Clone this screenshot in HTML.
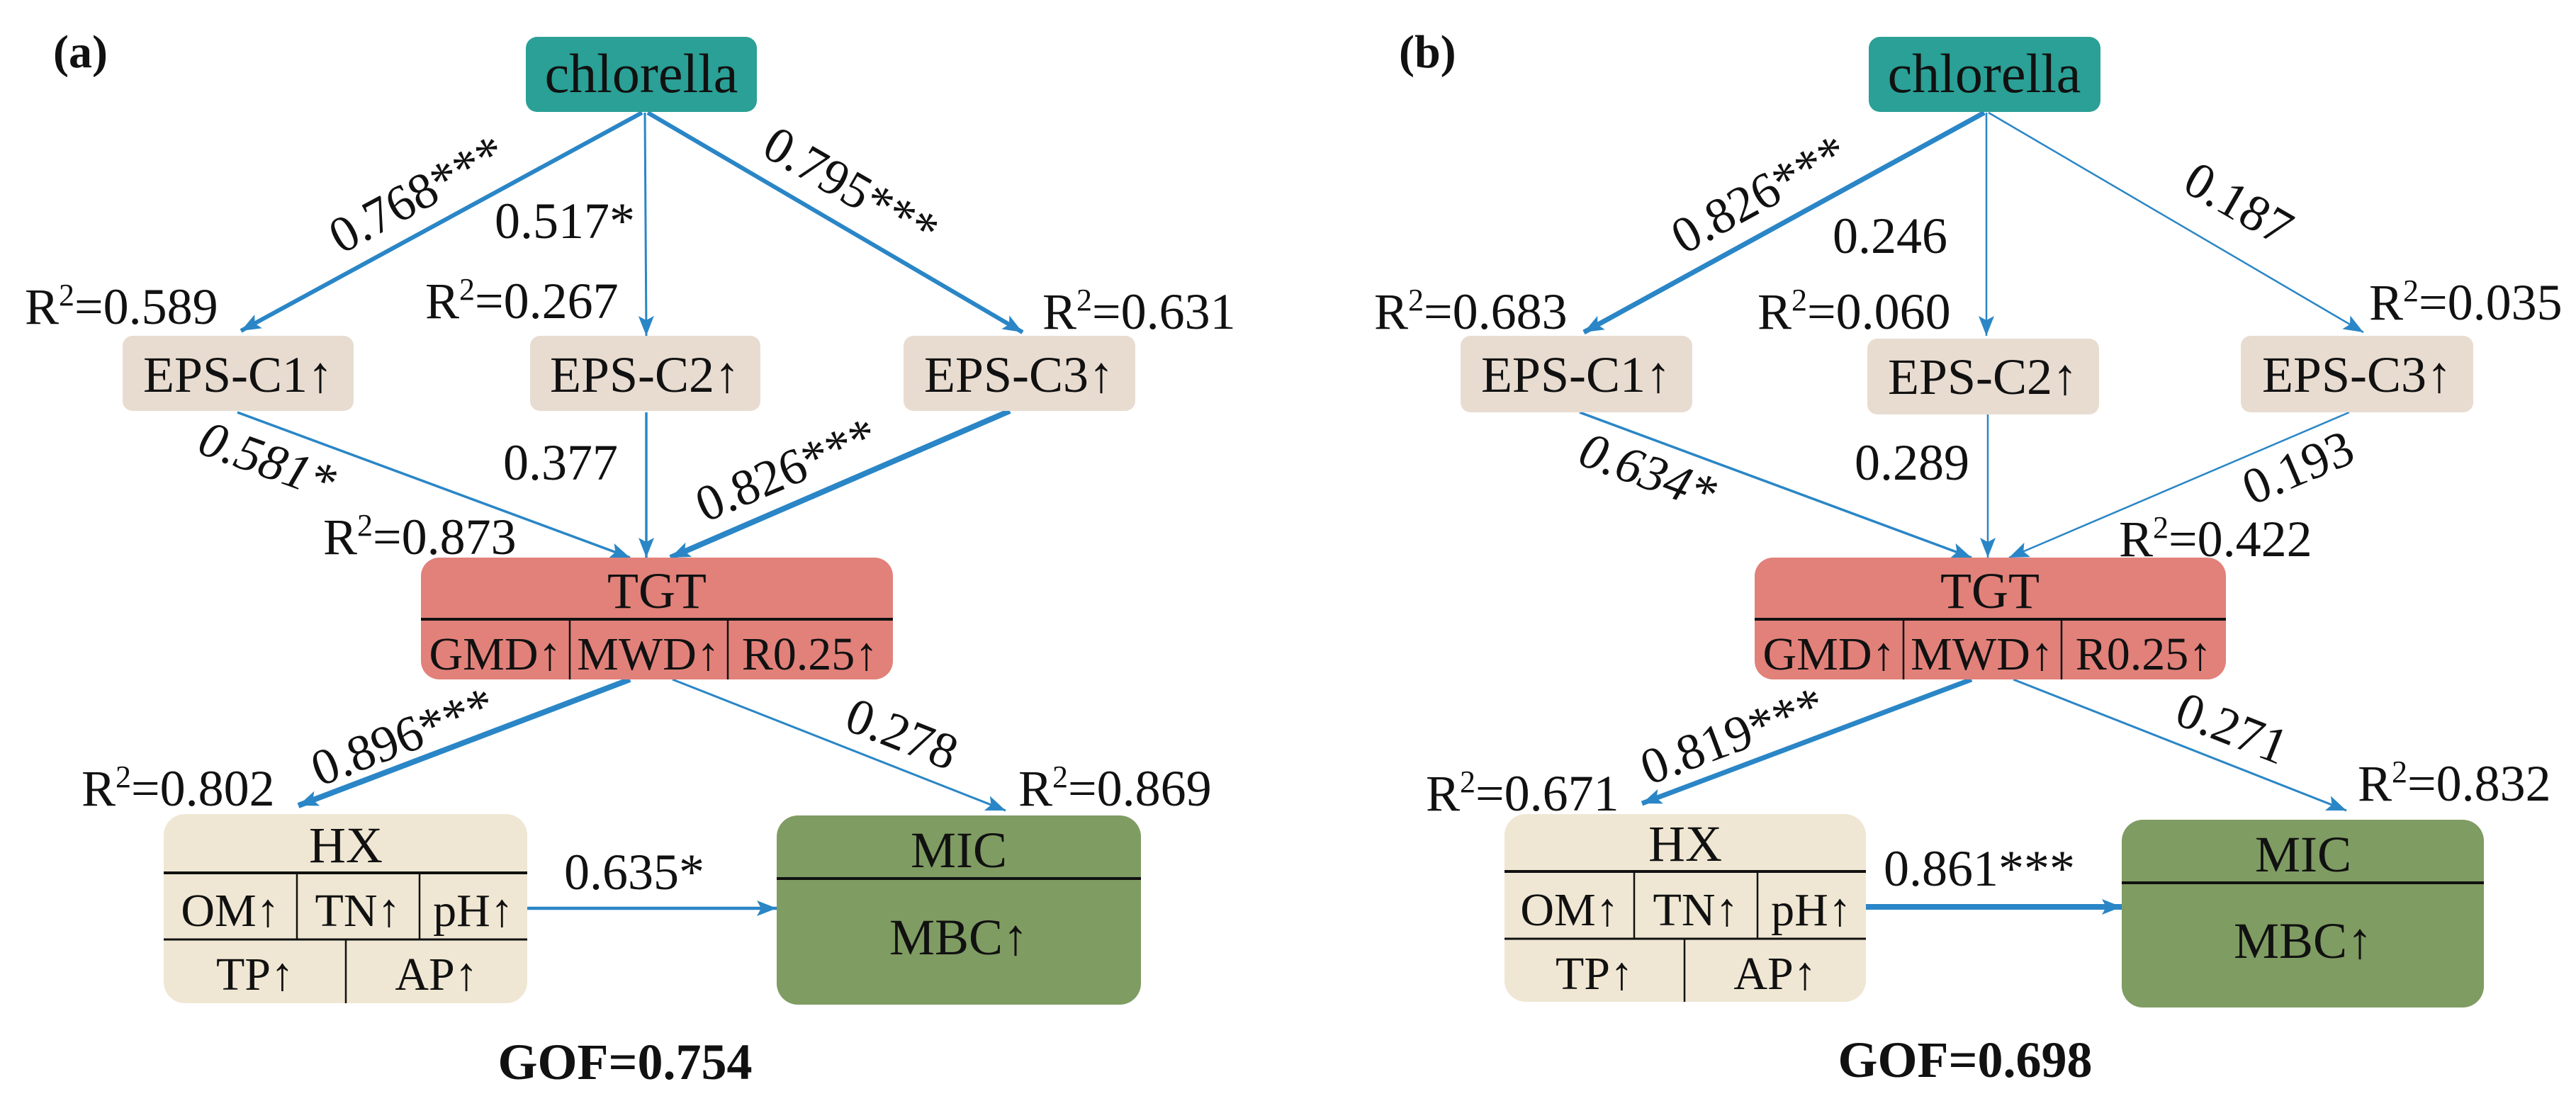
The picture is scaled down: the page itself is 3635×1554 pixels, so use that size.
<!DOCTYPE html>
<html><head><meta charset="utf-8"><style>
html,body{margin:0;padding:0;background:#fff;}
svg{display:block;}
svg text{font-family:"Liberation Serif","Times New Roman","Nimbus Roman","DejaVu Serif",serif;fill:#111;}
.t{font-size:72px;}
.n{font-size:78px;}
.s{font-size:66px;}
.b{font-weight:bold;font-size:72px;}
</style></head><body>
<svg width="3635" height="1554" viewBox="0 0 3635 1554" xmlns="http://www.w3.org/2000/svg" font-family="Liberation Serif, Times New Roman, serif">
<defs>
<marker id="ah" markerUnits="userSpaceOnUse" markerWidth="30" markerHeight="24" refX="28" refY="11" orient="auto">
<path d="M0,0 L28,11 L0,22 L6,11 z" fill="#2a86c6"/></marker>
</defs>
<g stroke="#2a86c6" fill="none" marker-end="url(#ah)">
<line x1="906" y1="159" x2="340" y2="467" stroke-width="6"/>
<line x1="910" y1="159" x2="912" y2="474" stroke-width="3"/>
<line x1="914" y1="159" x2="1443" y2="469" stroke-width="6"/>
<line x1="335" y1="582" x2="889" y2="787" stroke-width="3.5"/>
<line x1="912" y1="582" x2="912" y2="787" stroke-width="3.5"/>
<line x1="1425" y1="580" x2="946" y2="787" stroke-width="8"/>
<line x1="889" y1="959" x2="421" y2="1137" stroke-width="8"/>
<line x1="949" y1="959" x2="1419" y2="1144" stroke-width="3"/>
<line x1="744" y1="1282" x2="1096" y2="1282" stroke-width="4.5"/>
<line x1="2800" y1="159" x2="2235" y2="469" stroke-width="7"/>
<line x1="2803" y1="159" x2="2803" y2="474" stroke-width="2.5"/>
<line x1="2806" y1="159" x2="3335" y2="469" stroke-width="2.5"/>
<line x1="2229" y1="582" x2="2782" y2="787" stroke-width="3.5"/>
<line x1="2805" y1="585" x2="2805" y2="787" stroke-width="2.5"/>
<line x1="3315" y1="582" x2="2835" y2="787" stroke-width="2.5"/>
<line x1="2782" y1="959" x2="2317" y2="1134" stroke-width="7"/>
<line x1="2841" y1="959" x2="3311" y2="1144" stroke-width="3"/>
<line x1="2633" y1="1280" x2="2994" y2="1280" stroke-width="8"/>
</g>

<text x="75" y="95" class="b" style="font-size:66px">(a)</text>
<rect x="742" y="52" width="326" height="106" rx="16" fill="#2aa096"/>
<text x="905" y="130" class="n" text-anchor="middle">chlorella</text>
<rect x="173" y="474" width="326" height="106" rx="14" fill="#e8dcd1"/>
<text x="336" y="553" class="t" text-anchor="middle">EPS-C1↑</text>
<rect x="748" y="474" width="325" height="106" rx="14" fill="#e8dcd1"/>
<text x="910" y="553" class="t" text-anchor="middle">EPS-C2↑</text>
<rect x="1275" y="474" width="327" height="106" rx="14" fill="#e8dcd1"/>
<text x="1438" y="553" class="t" text-anchor="middle">EPS-C3↑</text>

<rect x="594" y="787" width="666" height="172" rx="26" fill="#e1817a"/>
<line x1="594" y1="874" x2="1260" y2="874" stroke="#111" stroke-width="4"/>
<line x1="804" y1="874" x2="804" y2="959" stroke="#111" stroke-width="2.5"/>
<line x1="1027" y1="874" x2="1027" y2="959" stroke="#111" stroke-width="2.5"/>
<text x="927" y="858" class="t" text-anchor="middle">TGT</text>
<text x="699" y="945" class="s" text-anchor="middle">GMD↑</text>
<text x="915" y="945" class="s" text-anchor="middle">MWD↑</text>
<text x="1143" y="945" class="s" text-anchor="middle">R0.25↑</text>

<rect x="231" y="1149" width="513" height="267" rx="30" fill="#efe7d3"/>
<line x1="231" y1="1232" x2="744" y2="1232" stroke="#111" stroke-width="4"/>
<line x1="231" y1="1326" x2="744" y2="1326" stroke="#111" stroke-width="3"/>
<line x1="419" y1="1232" x2="419" y2="1326" stroke="#111" stroke-width="2.5"/>
<line x1="592" y1="1232" x2="592" y2="1326" stroke="#111" stroke-width="2.5"/>
<line x1="488" y1="1326" x2="488" y2="1416" stroke="#111" stroke-width="2.5"/>
<text x="488" y="1217" class="t" text-anchor="middle">HX</text>
<text x="325" y="1307" class="s" text-anchor="middle">OM↑</text>
<text x="505" y="1307" class="s" text-anchor="middle">TN↑</text>
<text x="668" y="1307" class="s" text-anchor="middle">pH↑</text>
<text x="360" y="1397" class="s" text-anchor="middle">TP↑</text>
<text x="616" y="1397" class="s" text-anchor="middle">AP↑</text>

<rect x="1096" y="1151" width="514" height="267" rx="30" fill="#7f9c62"/>
<line x1="1096" y1="1240" x2="1610" y2="1240" stroke="#111" stroke-width="4"/>
<text x="1353" y="1224" class="t" text-anchor="middle">MIC</text>
<text x="1353" y="1347" class="t" text-anchor="middle">MBC↑</text>

<text x="35" y="457" class="t">R<tspan font-size="44" dy="-26">2</tspan><tspan dy="26">=0.589</tspan></text>
<text x="600" y="449" class="t">R<tspan font-size="44" dy="-26">2</tspan><tspan dy="26">=0.267</tspan></text>
<text x="1471" y="464" class="t">R<tspan font-size="44" dy="-26">2</tspan><tspan dy="26">=0.631</tspan></text>
<text x="456" y="782" class="t">R<tspan font-size="44" dy="-26">2</tspan><tspan dy="26">=0.873</tspan></text>
<text x="115" y="1137" class="t">R<tspan font-size="44" dy="-26">2</tspan><tspan dy="26">=0.802</tspan></text>
<text x="1437" y="1137" class="t">R<tspan font-size="44" dy="-26">2</tspan><tspan dy="26">=0.869</tspan></text>
<text class="t" text-anchor="middle" transform="translate(600,295) rotate(-28.5)">0.768***</text>
<text x="698" y="336" class="t">0.517*</text>
<text class="t" text-anchor="middle" transform="translate(1189,285) rotate(30)">0.795***</text>
<text class="t" text-anchor="middle" style="font-style:italic" transform="translate(369,672) rotate(20)">0.581*</text>
<text x="710" y="677" class="t">0.377</text>
<text class="t" text-anchor="middle" transform="translate(1119,685) rotate(-23)">0.826***</text>
<text class="t" text-anchor="middle" transform="translate(577,1062) rotate(-21)">0.896***</text>
<text class="t" text-anchor="middle" transform="translate(1264,1058) rotate(21.5)">0.278</text>
<text x="796" y="1255" class="t">0.635*</text>
<text x="882" y="1523" class="b" text-anchor="middle">GOF=0.754</text>

<text x="1974" y="95" class="b" style="font-size:66px">(b)</text>
<rect x="2637" y="52" width="327" height="106" rx="16" fill="#2aa096"/>
<text x="2800" y="130" class="n" text-anchor="middle">chlorella</text>
<rect x="2061" y="474" width="327" height="108" rx="14" fill="#e8dcd1"/>
<text x="2224" y="553" class="t" text-anchor="middle">EPS-C1↑</text>
<rect x="2635" y="478" width="327" height="107" rx="14" fill="#e8dcd1"/>
<text x="2798" y="556" class="t" text-anchor="middle">EPS-C2↑</text>
<rect x="3162" y="474" width="328" height="108" rx="14" fill="#e8dcd1"/>
<text x="3326" y="553" class="t" text-anchor="middle">EPS-C3↑</text>

<rect x="2476" y="787" width="665" height="172" rx="26" fill="#e1817a"/>
<line x1="2476" y1="874" x2="3141" y2="874" stroke="#111" stroke-width="4"/>
<line x1="2686" y1="874" x2="2686" y2="959" stroke="#111" stroke-width="2.5"/>
<line x1="2909" y1="874" x2="2909" y2="959" stroke="#111" stroke-width="2.5"/>
<text x="2808" y="858" class="t" text-anchor="middle">TGT</text>
<text x="2581" y="945" class="s" text-anchor="middle">GMD↑</text>
<text x="2797" y="945" class="s" text-anchor="middle">MWD↑</text>
<text x="3025" y="945" class="s" text-anchor="middle">R0.25↑</text>

<rect x="2123" y="1149" width="510" height="265" rx="30" fill="#efe7d3"/>
<line x1="2123" y1="1230" x2="2633" y2="1230" stroke="#111" stroke-width="4"/>
<line x1="2123" y1="1325" x2="2633" y2="1325" stroke="#111" stroke-width="3"/>
<line x1="2306" y1="1230" x2="2306" y2="1325" stroke="#111" stroke-width="2.5"/>
<line x1="2480" y1="1230" x2="2480" y2="1325" stroke="#111" stroke-width="2.5"/>
<line x1="2377" y1="1325" x2="2377" y2="1414" stroke="#111" stroke-width="2.5"/>
<text x="2378" y="1215" class="t" text-anchor="middle">HX</text>
<text x="2215" y="1306" class="s" text-anchor="middle">OM↑</text>
<text x="2393" y="1306" class="s" text-anchor="middle">TN↑</text>
<text x="2556" y="1306" class="s" text-anchor="middle">pH↑</text>
<text x="2250" y="1396" class="s" text-anchor="middle">TP↑</text>
<text x="2505" y="1396" class="s" text-anchor="middle">AP↑</text>

<rect x="2994" y="1157" width="511" height="265" rx="30" fill="#7f9c62"/>
<line x1="2994" y1="1246" x2="3505" y2="1246" stroke="#111" stroke-width="4"/>
<text x="3250" y="1230" class="t" text-anchor="middle">MIC</text>
<text x="3250" y="1352" class="t" text-anchor="middle">MBC↑</text>

<text x="1939" y="464" class="t">R<tspan font-size="44" dy="-26">2</tspan><tspan dy="26">=0.683</tspan></text>
<text x="2480" y="464" class="t">R<tspan font-size="44" dy="-26">2</tspan><tspan dy="26">=0.060</tspan></text>
<text x="3343" y="451" class="t">R<tspan font-size="44" dy="-26">2</tspan><tspan dy="26">=0.035</tspan></text>
<text x="2990" y="785" class="t">R<tspan font-size="44" dy="-26">2</tspan><tspan dy="26">=0.422</tspan></text>
<text x="2012" y="1144" class="t">R<tspan font-size="44" dy="-26">2</tspan><tspan dy="26">=0.671</tspan></text>
<text x="3327" y="1130" class="t">R<tspan font-size="44" dy="-26">2</tspan><tspan dy="26">=0.832</tspan></text>
<text class="t" text-anchor="middle" transform="translate(2494,295) rotate(-28.7)">0.826***</text>
<text x="2586" y="357" class="t">0.246</text>
<text class="t" text-anchor="middle" transform="translate(3147,308) rotate(30)">0.187</text>
<text class="t" text-anchor="middle" style="font-style:italic" transform="translate(2317,688) rotate(20)">0.634*</text>
<text x="2617" y="677" class="t">0.289</text>
<text class="t" text-anchor="middle" transform="translate(3252,682) rotate(-23)">0.193</text>
<text class="t" text-anchor="middle" transform="translate(2453,1061) rotate(-20.6)">0.819***</text>
<text class="t" text-anchor="middle" transform="translate(3141,1050) rotate(21.5)">0.271</text>
<text x="2658" y="1250" class="t">0.861***</text>
<text x="2773" y="1520" class="b" text-anchor="middle">GOF=0.698</text>
</svg>
</body></html>
